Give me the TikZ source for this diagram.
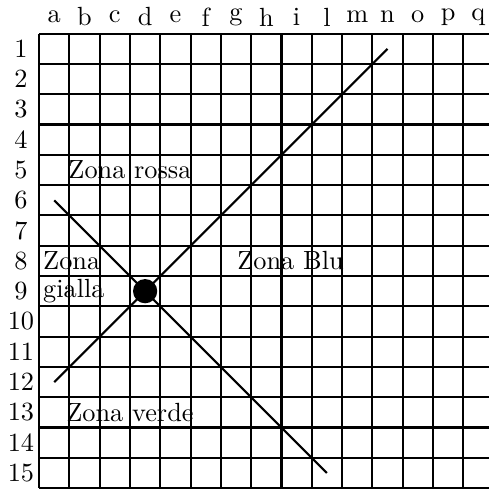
\documentclass[tikz,border=0pt]{standalone}
\usepackage{tikz}
\usetikzlibrary{positioning}
\tikzstyle{griglia} = [thick, draw=black]
\tikzstyle{diagonale} = [thick, draw=black]
\tikzstyle{zona} = [inner sep=0pt]

\begin{document}
\begin{tikzpicture}[x=0.405cm, y=0.405cm]
    \useasboundingbox (-1.29,-15.0) rectangle (14.85,1.11);
    \foreach \k in {0,...,15} {
        \draw[griglia] (\k,0) -- (\k,-15);
        \draw[griglia] (0,-\k) -- (15,-\k);
    }
    \foreach \lettera [count=\i] in {a,b,c,d,e,f,g,h,i,l,m,n,o,p,q}
        \node (col-\lettera) at (\i-0.5,0.55) {\lettera};
    \foreach \riga in {1,...,15}
        \node (riga-\riga) at (-0.6,0.5-\riga) {\riga};
    \coordinate (d1-basso) at (0.5,-11.5);
    \coordinate (d1-alto) at (11.5,-0.5);
    \coordinate (d2-alto) at (0.5,-5.5);
    \coordinate (d2-basso) at (9.5,-14.5);
    \draw[diagonale] (d1-basso) -- (d1-alto);
    \draw[diagonale] (d2-alto) -- (d2-basso);
    \node[circle, fill=black, inner sep=0pt, minimum size=0.8*0.405cm] (punto) at (3.5,-8.5) {};
    \node (rossa) at (3,-4.5) {Zona rossa};
    \node (verde) at (3,-12.5) {Zona verde};
    \node (blu) at (8.3,-7.5) {Zona Blu};
    \node[zona, anchor=west] (gialla-1) at (0.12,-7.5) {Zona};
    \node[zona, anchor=west] (gialla-2) at (0.12,-8.5) {gialla};
\end{tikzpicture}
\end{document}
